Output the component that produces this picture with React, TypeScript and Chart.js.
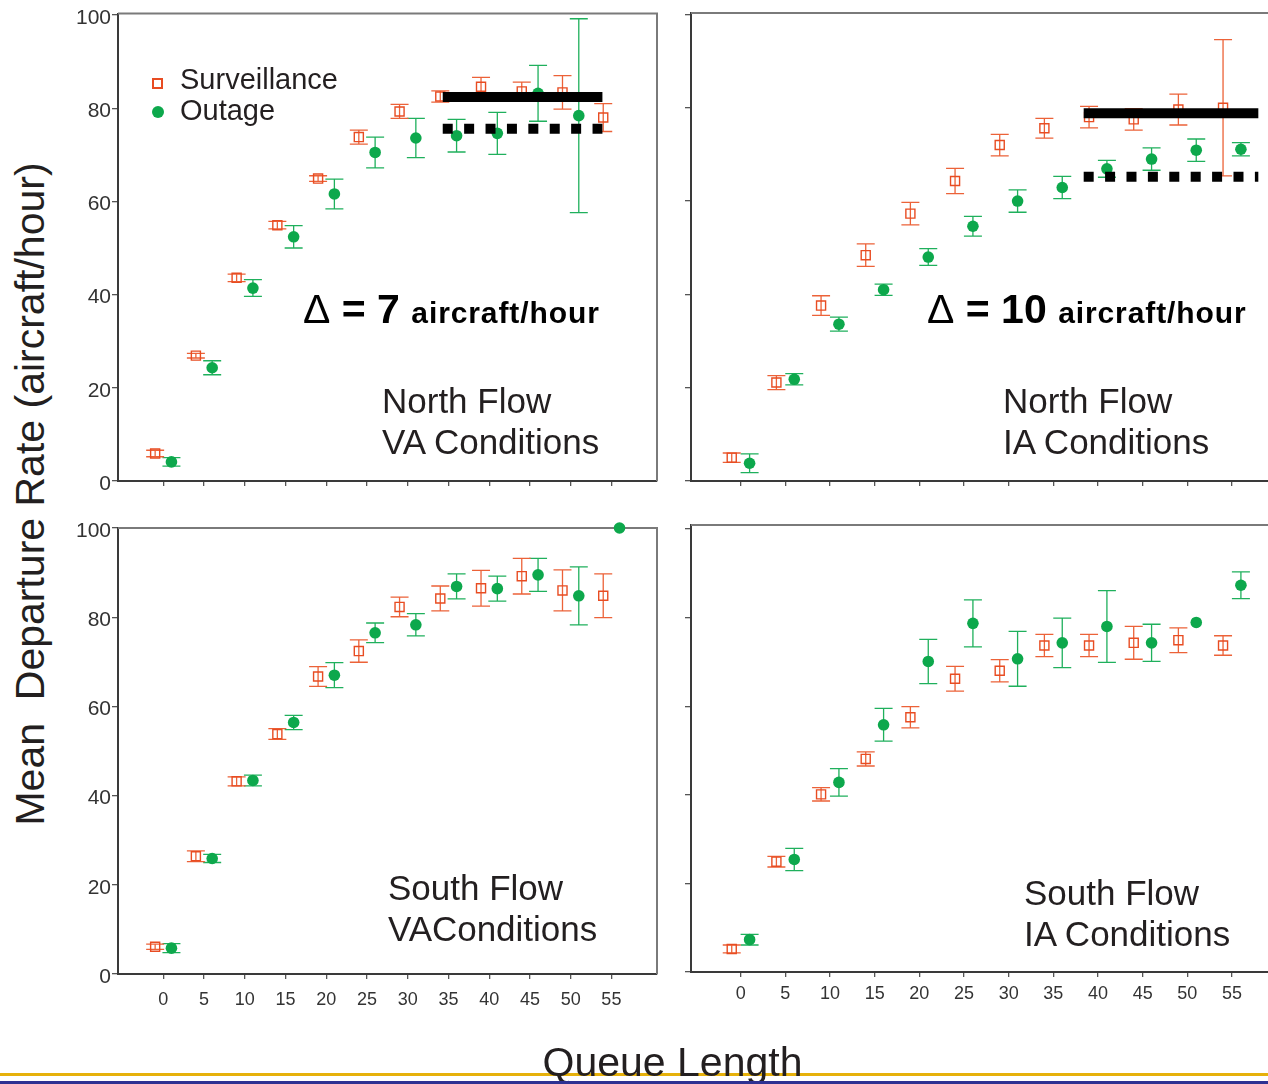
import React, { useEffect, useRef } from "react";
import { Chart, registerables } from "chart.js";

Chart.register(...registerables);

const FONT = '"Liberation Sans", Arial, Helvetica, sans-serif';

// ---------------- data ----------------
const X_TICKS = [0, 5, 10, 15, 20, 25, 30, 35, 40, 45, 50, 55];
const Y_TICKS = [0, 20, 40, 60, 80, 100];
const X_MIN = -5.56;
const X_MAX = 60.6;
const SURV_X = [-1, 4, 9, 14, 19, 24, 29, 34, 39, 44, 49, 54];
const OUT_X = [1, 6, 11, 16, 21, 26, 31, 36, 41, 46, 51, 56];

// North Flow, VA Conditions
const NVA_SURV = [5.9, 26.9, 43.6, 54.9, 64.9, 73.8, 79.3, 82.5, 84.6, 83.6, 83.4, 78.0];
const NVA_SURV_ERR = [0.7, 0.5, 0.8, 0.8, 0.6, 1.5, 1.5, 1.2, 2.0, 2.0, 3.6, 3.0];
const NVA_OUT = [4.1, 24.3, 41.4, 52.4, 61.6, 70.5, 73.6, 74.1, 74.6, 83.2, 78.4];
const NVA_OUT_ERR = [0.9, 1.5, 1.8, 2.4, 3.2, 3.3, 4.2, 3.5, 4.5, 6.0, 20.8];
const NVA_LEVEL_X = [34.3, 53.9];
const NVA_SURV_LEVEL = 82.4;
const NVA_OUT_LEVEL = 75.6;

// North Flow, IA Conditions
const NIA_SURV = [5.0, 21.1, 37.6, 48.4, 57.3, 64.3, 72.0, 75.6, 78.0, 77.5, 79.6, 80.0];
const NIA_SURV_ERR = [1.0, 1.5, 2.1, 2.4, 2.4, 2.7, 2.3, 2.1, 2.3, 2.3, 3.3, 14.6];
const NIA_OUT = [3.8, 21.8, 33.6, 41.0, 48.0, 54.6, 60.0, 62.9, 66.9, 69.0, 70.9, 71.1];
const NIA_OUT_ERR = [2.0, 1.2, 1.5, 1.2, 1.8, 2.1, 2.4, 2.4, 1.8, 2.4, 2.4, 1.4];
const NIA_LEVEL_X = [38.4, 57.95];
const NIA_SURV_LEVEL = 78.8;
const NIA_OUT_LEVEL = 65.2;

// South Flow, VA Conditions
const SVA_SURV = [6.1, 26.4, 43.2, 53.8, 66.7, 72.4, 82.3, 84.2, 86.5, 89.2, 86.0, 84.8];
const SVA_SURV_ERR = [0.6, 1.2, 1.0, 1.2, 2.2, 2.5, 2.2, 2.8, 4.0, 4.0, 4.6, 4.9];
const SVA_OUT = [5.8, 25.9, 43.4, 56.4, 67.0, 76.5, 78.3, 86.9, 86.4, 89.5, 84.8, 100];
const SVA_OUT_ERR = [1.0, 0.9, 1.2, 1.6, 2.8, 2.2, 2.5, 2.8, 2.8, 3.7, 6.5, 0];

// South Flow, IA Conditions
const SIA_SURV = [5.2, 24.9, 40.1, 48.1, 57.5, 66.2, 68.0, 73.7, 73.7, 74.3, 74.9, 73.7];
const SIA_SURV_ERR = [0.9, 1.2, 1.5, 1.6, 2.4, 2.8, 2.5, 2.5, 2.5, 3.7, 2.8, 2.2];
const SIA_OUT = [7.3, 25.4, 42.8, 55.8, 70.1, 78.7, 70.7, 74.3, 78.0, 74.3, 78.9, 87.3];
const SIA_OUT_ERR = [1.2, 2.5, 3.1, 3.7, 5.0, 5.3, 6.2, 5.6, 8.1, 4.2, 0, 3.0];

// ---------------- styles ----------------
const ORANGE = "#E84C22";
const ORANGE_BAR = "#EC6238";
const GREEN = "#0DA84C";
const GREEN_BAR = "#1FB05C";
const TEXT = "#231F20";
const CAP = 9;

const errorBarPlugin = {
  id: "errorBars",
  beforeDatasetsDraw(chart: any) {
    const { ctx } = chart;
    const xs = chart.scales.x;
    const ys = chart.scales.y;
    chart.data.datasets.forEach((ds: any) => {
      if (!ds.errors) return;
      ctx.save();
      ctx.strokeStyle = ds.errColor;
      ctx.lineWidth = 1.3;
      ds.data.forEach((p: any, i: number) => {
        const e = ds.errors[i];
        if (!e) return;
        const px = xs.getPixelForValue(p.x);
        const top = ys.getPixelForValue(p.y + e);
        const bot = ys.getPixelForValue(p.y - e);
        ctx.beginPath();
        ctx.moveTo(px, top);
        ctx.lineTo(px, bot);
        ctx.moveTo(px - CAP, top);
        ctx.lineTo(px + CAP, top);
        ctx.moveTo(px - CAP, bot);
        ctx.lineTo(px + CAP, bot);
        ctx.stroke();
      });
      ctx.restore();
    });
  },
};

const framePlugin = {
  id: "frame",
  beforeDatasetsDraw(chart: any) {
    const { ctx, chartArea: a } = chart;
    ctx.save();
    ctx.strokeStyle = "#7a7a7a";
    ctx.lineWidth = 2;
    ctx.beginPath();
    ctx.moveTo(a.left, a.top);
    ctx.lineTo(a.right, a.top);
    ctx.lineTo(a.right, a.bottom);
    ctx.stroke();
    ctx.restore();
  },
};

type Box = { left: number; top: number; width: number; height: number };
type Area = { left: number; top: number; right: number; bottom: number };

type PanelProps = {
  surv: number[];
  survErr: number[];
  out: number[];
  outErr: number[];
  levelX: number[];
  survLevel: number;
  outLevel: number;
  box: Box;
  area: Area;
  yMax: number;
  showY: boolean;
  showX: boolean;
  xPad: number;
};

function Panel(p: PanelProps) {
  const ref = useRef<HTMLCanvasElement>(null);
  useEffect(() => {
    if (!ref.current) return;
    const yw = p.area.left - p.box.left;
    const xh = p.box.top + p.box.height - p.area.bottom;
    const datasets: any[] = [];
    if (p.levelX.length) {
      datasets.push({
        type: "line",
        label: "Surveillance level",
        data: p.levelX.map((x) => ({ x, y: p.survLevel })),
        borderColor: "#000",
        borderWidth: 10,
        borderCapStyle: "butt",
        pointRadius: 0,
        tension: 0,
        clip: false,
        order: 0,
      });
      datasets.push({
        type: "line",
        label: "Outage level",
        data: p.levelX.map((x) => ({ x, y: p.outLevel })),
        borderColor: "#000",
        borderWidth: 10,
        borderDash: [10, 11.4],
        borderCapStyle: "butt",
        pointRadius: 0,
        tension: 0,
        clip: false,
        order: 0,
      });
    }
    datasets.push({
      type: "scatter",
      label: "Outage",
      data: p.out.map((y, i) => ({ x: OUT_X[i], y })),
      errors: p.outErr,
      errColor: GREEN_BAR,
      pointStyle: "circle",
      pointRadius: 5.8,
      backgroundColor: GREEN,
      borderColor: GREEN,
      borderWidth: 0,
      clip: false,
      order: 1,
    });
    datasets.push({
      type: "scatter",
      label: "Surveillance",
      data: p.surv.map((y, i) => ({ x: SURV_X[i], y })),
      errors: p.survErr,
      errColor: ORANGE_BAR,
      pointStyle: "rect",
      pointRadius: 6.4,
      backgroundColor: "rgba(0,0,0,0)",
      borderColor: ORANGE,
      borderWidth: 1.4,
      clip: false,
      order: 2,
    });

    const chart = new Chart(ref.current, {
      type: "scatter",
      data: { datasets },
      options: {
        animation: false,
        responsive: false,
        devicePixelRatio: 1,
        events: [],
        layout: {
          autoPadding: false,
          padding: {
            top: p.area.top - p.box.top,
            right: p.box.left + p.box.width - p.area.right,
            left: 0,
            bottom: 0,
          },
        },
        plugins: { legend: { display: false }, tooltip: { enabled: false } },
        scales: {
          x: {
            type: "linear",
            position: "bottom",
            bounds: "data",
            min: X_MIN,
            max: X_MAX,
            afterBuildTicks: (s: any) => {
              s.ticks = X_TICKS.map((value) => ({ value }));
            },
            afterFit: (s: any) => {
              s.height = xh;
            },
            grid: { drawOnChartArea: false, drawTicks: true, tickLength: 5, color: "#555", lineWidth: 1.3 },
            border: { display: true, color: "#3a3a3a", width: 2 },
            ticks: {
              display: p.showX,
              autoSkip: false,
              maxRotation: 0,
              padding: p.xPad,
              color: "#333",
              font: { family: FONT, size: 18 },
              callback: (v: any) => String(v),
            },
          },
          y: {
            type: "linear",
            position: "left",
            bounds: "data",
            min: 0,
            max: p.yMax,
            afterBuildTicks: (s: any) => {
              s.ticks = Y_TICKS.map((value) => ({ value }));
            },
            afterFit: (s: any) => {
              s.width = yw;
            },
            grid: { drawOnChartArea: false, drawTicks: true, tickLength: 6, color: "#555", lineWidth: 1.3 },
            border: { display: true, color: "#3a3a3a", width: 2 },
            ticks: {
              display: p.showY,
              padding: 1,
              labelOffset: 3,
              color: "#333",
              font: { family: FONT, size: 21 },
              callback: (v: any) => String(v),
            },
          },
        },
      } as any,
      plugins: [framePlugin, errorBarPlugin],
    });
    return () => chart.destroy();
  }, []);
  return (
    <canvas
      ref={ref}
      width={p.box.width}
      height={p.box.height}
      style={{ position: "absolute", left: p.box.left, top: p.box.top, width: p.box.width, height: p.box.height }}
    />
  );
}

function Label(props: { x: number; baseline: number; size: number; children: any; style?: any }) {
  const { x, baseline, size, children, style } = props;
  return (
    <div
      style={{
        position: "absolute",
        left: x,
        top: baseline - 0.8465 * size,
        fontSize: size,
        lineHeight: `${size}px`,
        fontFamily: FONT,
        color: TEXT,
        whiteSpace: "pre",
        ...style,
      }}
    >
      {children}
    </div>
  );
}

function Delta(props: { x: number; value: string }) {
  return (
    <Label x={props.x} baseline={323.3} size={41} style={{ color: "#000", fontWeight: "bold" }}>
      <span style={{ fontWeight: "normal" }}>{"\u0394"}</span>
      {` = ${props.value} `}
      <span style={{ fontSize: 30, letterSpacing: 0.9 }}>aircraft/hour</span>
    </Label>
  );
}

export default function App() {
  return (
    <div
      style={{
        position: "absolute",
        left: 0,
        top: 0,
        width: 1268,
        height: 1084,
        overflow: "hidden",
        background: "#fff",
      }}
    >
      <Panel
        surv={NVA_SURV}
        survErr={NVA_SURV_ERR}
        out={NVA_OUT}
        outErr={NVA_OUT_ERR}
        levelX={NVA_LEVEL_X}
        survLevel={NVA_SURV_LEVEL}
        outLevel={NVA_OUT_LEVEL}
        box={{ left: 60, top: 0, width: 601, height: 500 }}
        area={{ left: 118, top: 13, right: 657, bottom: 481 }}
        yMax={100.3}
        showY={true}
        showX={false}
        xPad={0}
      />
      <Panel
        surv={NIA_SURV}
        survErr={NIA_SURV_ERR}
        out={NIA_OUT}
        outErr={NIA_OUT_ERR}
        levelX={NIA_LEVEL_X}
        survLevel={NIA_SURV_LEVEL}
        outLevel={NIA_OUT_LEVEL}
        box={{ left: 640, top: 0, width: 646, height: 500 }}
        area={{ left: 691, top: 13, right: 1282, bottom: 481 }}
        yMax={100.3}
        showY={false}
        showX={false}
        xPad={0}
      />
      <Panel
        surv={SVA_SURV}
        survErr={SVA_SURV_ERR}
        out={SVA_OUT}
        outErr={SVA_OUT_ERR}
        levelX={[]}
        survLevel={0}
        outLevel={0}
        box={{ left: 60, top: 500, width: 601, height: 540 }}
        area={{ left: 118, top: 528, right: 657, bottom: 974 }}
        yMax={100}
        showY={true}
        showX={true}
        xPad={10}
      />
      <Panel
        surv={SIA_SURV}
        survErr={SIA_SURV_ERR}
        out={SIA_OUT}
        outErr={SIA_OUT_ERR}
        levelX={[]}
        survLevel={0}
        outLevel={0}
        box={{ left: 640, top: 500, width: 646, height: 540 }}
        area={{ left: 691, top: 525, right: 1282, bottom: 972 }}
        yMax={100.9}
        showY={false}
        showX={true}
        xPad={6}
      />

      {/* legend */}
      <div
        style={{
          position: "absolute",
          left: 152,
          top: 77.5,
          width: 11,
          height: 11,
          border: `2.5px solid ${ORANGE}`,
          boxSizing: "border-box",
        }}
      />
      <div
        style={{
          position: "absolute",
          left: 151.5,
          top: 105.5,
          width: 12,
          height: 12,
          borderRadius: "50%",
          background: GREEN,
        }}
      />
      <Label x={180} baseline={89.5} size={29}>Surveillance</Label>
      <Label x={180} baseline={121} size={29}>Outage</Label>

      {/* delta annotations */}
      <Delta x={303} value="7" />
      <Delta x={927} value="10" />

      {/* panel labels */}
      <Label x={382} baseline={412.5} size={35}>North Flow</Label>
      <Label x={382} baseline={454} size={35}>VA Conditions</Label>
      <Label x={1003} baseline={412.5} size={35}>North Flow</Label>
      <Label x={1003} baseline={454} size={35}>IA Conditions</Label>
      <Label x={388} baseline={900} size={35}>South Flow</Label>
      <Label x={388} baseline={941} size={35} style={{ wordSpacing: -8 }}>VA Conditions</Label>
      <Label x={1024} baseline={905} size={35}>South Flow</Label>
      <Label x={1024} baseline={946} size={35}>IA Conditions</Label>

      {/* axis titles */}
      <div
        style={{
          position: "absolute",
          left: 29.7,
          top: 493.5,
          transform: "translate(-50%, -50%) rotate(-90deg)",
          fontSize: 41,
          lineHeight: "41px",
          fontFamily: FONT,
          color: TEXT,
          whiteSpace: "pre",
        }}
      >
        {"Mean  Departure Rate (aircraft/hour)"}
      </div>
      <div style={{ position: "absolute", left: 0, top: 1073, width: 1268, height: 2.5, background: "#E6B10A" }} />
      <Label x={672.5} baseline={1076.5} size={41} style={{ transform: "translateX(-50%)" }}>
        Queue Length
      </Label>
      <div style={{ position: "absolute", left: 0, top: 1081, width: 1268, height: 3, background: "#2E3192" }} />
    </div>
  );
}
